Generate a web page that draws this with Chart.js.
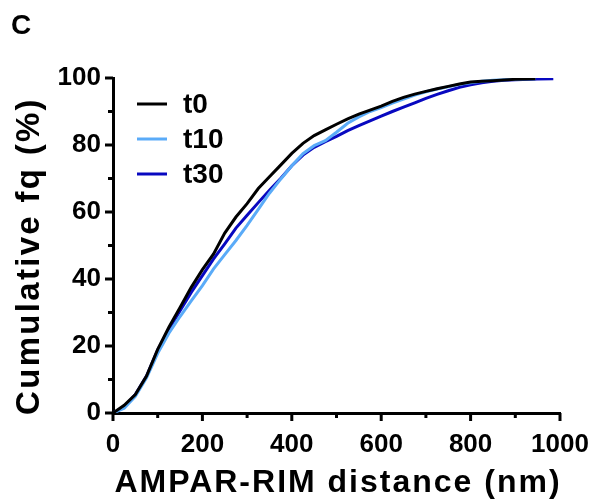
<!DOCTYPE html>
<html>
<head>
<meta charset="utf-8">
<script src="https://cdn.jsdelivr.net/npm/chart.js@4.4.0/dist/chart.umd.min.js"></script>
<style>
html,body{margin:0;padding:0;background:#fff;}
</style>
</head>
<body>
<canvas id="myChart" width="595" height="500"></canvas>
<script>
// cumulative frequency curves
const seriesNames = ['t0', 't10', 't30'];
const seriesColors = ['#000000', '#5aabf8', '#0808c0'];

const t0Dist = [0,25,50,75,100,125,150,175,200,225,250,275,300,325,350,375,400,425,450,475,500,525,550,575,600,625,650,675,700,725,750,775,800,825,850,875,900,925,945];
const t0Fq   = [0,2.3,5.5,11,19,25.6,31.5,37.5,42.8,47.5,53.7,58.5,62.5,67,70.5,74,77.5,80.5,82.8,84.5,86.2,87.8,89.2,90.4,91.6,93,94.2,95.2,96,96.8,97.5,98.2,98.8,99,99.2,99.4,99.6,99.7,99.8];

const t10Dist = [0,25,50,75,100,125,150,175,200,225,250,275,300,325,350,375,400,425,450,475,500,525,550,575,600,625,650,675,700,725,750,775,800,825,850,900,945];
const t10Fq   = [0,1.4,5,10.5,17.8,23.8,28.8,33.5,38,43,47.3,51.5,56,60.8,65.6,69.8,73.8,77.4,79.8,81.3,83.8,86.5,88.4,90,91.2,92.5,93.7,94.9,95.9,96.7,97.4,98.1,98.6,99,99.3,99.6,99.8];

const t30Dist = [0,25,50,75,100,125,150,175,200,225,250,275,300,325,350,375,400,425,450,475,500,525,550,575,600,625,650,675,700,725,750,775,800,825,850,875,900,950,985];
const t30Fq   = [0,1.8,5.5,11,18.8,25,30.5,36,41,46,50.5,55.2,59,62.8,66.5,70,73.8,77,79.3,81,82.6,84.3,85.8,87.2,88.6,90,91.3,92.6,93.9,95.1,96.2,97.2,98,98.6,99,99.3,99.5,99.7,99.8];

const xTicks = [0,200,400,600,800,1000];
const xMinor = [100,300,500,700,900];
const yTicks = [0,20,40,60,80,100];
const yMinor = [10,30,50,70,90];

const xTitle = 'AMPAR-RIM distance (nm)';
const yTitle = 'Cumulative fq (%)';
const panelLabel = 'C';

function pts(xs, ys){
  const out = [];
  for (let i = 0; i < xs.length; i++) out.push({x: xs[i], y: ys[i]});
  return out;
}
const allDist = [t0Dist, t10Dist, t30Dist];
const allFq = [t0Fq, t10Fq, t30Fq];

const datasets = seriesNames.map(function(n, i){
  return {
    label: n,
    data: pts(allDist[i], allFq[i]),
    borderColor: seriesColors[i],
    backgroundColor: seriesColors[i],
    borderWidth: 3,
    pointRadius: 0,
    tension: 0,
    fill: false
  };
});

const FONT = "'Liberation Sans', Arial, sans-serif";

const decor = {
  id: 'decor',
  beforeDraw(chart){
    const ctx = chart.ctx;
    ctx.save();
    ctx.fillStyle = '#fff';
    ctx.fillRect(0, 0, chart.width, chart.height);
    ctx.restore();
  },
  afterDraw(chart){
    const ctx = chart.ctx;
    const xs = chart.scales.x, ys = chart.scales.y;
    ctx.save();
    ctx.strokeStyle = '#000';
    ctx.lineWidth = 3;
    // tick marks
    function tx(v, len){
      const p = xs.getPixelForValue(v);
      ctx.beginPath(); ctx.moveTo(p, xs.top); ctx.lineTo(p, xs.top + len); ctx.stroke();
    }
    function ty(v, len){
      const p = ys.getPixelForValue(v);
      ctx.beginPath(); ctx.moveTo(ys.right, p); ctx.lineTo(ys.right - len, p); ctx.stroke();
    }
    xTicks.forEach(v => tx(v, 8));
    xMinor.forEach(v => tx(v, 5));
    yTicks.forEach(v => ty(v, 8));
    yMinor.forEach(v => ty(v, 5));

    // legend
    const lx = chart.chartArea.left + 24;
    seriesNames.forEach(function(n, i){
      const y = 104 + i * 35;
      ctx.strokeStyle = seriesColors[i];
      ctx.beginPath(); ctx.moveTo(lx, y); ctx.lineTo(lx + 30, y); ctx.stroke();
      ctx.fillStyle = '#000';
      ctx.font = 'bold 28px ' + FONT;
      ctx.textBaseline = 'middle';
      ctx.textAlign = 'left';
      ctx.fillText(n, lx + 46, y + 1);
    });

    // titles
    ctx.fillStyle = '#000';
    ctx.letterSpacing = '2px';
    ctx.font = 'bold 32px ' + FONT;
    ctx.textAlign = 'center';
    ctx.textBaseline = 'alphabetic';
    ctx.fillText(xTitle, 338, 492);
    ctx.letterSpacing = '2.3px';
    ctx.font = 'bold 33px ' + FONT;
    ctx.save();
    ctx.translate(39, 256);
    ctx.rotate(-Math.PI / 2);
    ctx.fillText(yTitle, 0, 0);
    ctx.restore();
    ctx.letterSpacing = '0px';
    ctx.font = 'bold 28px ' + FONT;
    ctx.textAlign = 'left';
    ctx.fillText(panelLabel, 11, 34);
    ctx.restore();
  }
};

const config = {
  type: 'line',
  data: { datasets: datasets },
  options: {
    responsive: false,
    animation: false,
    devicePixelRatio: 1,
    layout: { padding: { top: 78, right: 35, left: 0, bottom: 0 } },
    plugins: { legend: { display: false }, tooltip: { enabled: false } },
    scales: {
      x: {
        type: 'linear',
        min: 0, max: 1000,
        grid: { display: false, drawTicks: false },
        border: { display: true, color: '#000', width: 3 },
        afterFit: function(s){ s.height = 87; s.paddingLeft = 0; s.paddingRight = 0; },
        afterBuildTicks: function(s){ s.ticks = xTicks.map(v => ({value: v})); },
        ticks: { color: '#000', padding: 16, maxRotation: 0, callback: v => String(v), font: { family: FONT, size: 26, weight: 'bold' } }
      },
      y: {
        type: 'linear',
        min: 0, max: 100,
        grid: { display: false, drawTicks: false },
        border: { display: true, color: '#000', width: 3 },
        afterFit: function(s){ s.width = 113; s.paddingTop = 0; s.paddingBottom = 0; },
        afterBuildTicks: function(s){ s.ticks = yTicks.map(v => ({value: v})); },
        ticks: { color: '#000', padding: 12, callback: v => String(v), font: { family: FONT, size: 26, weight: 'bold' } }
      }
    }
  },
  plugins: [decor]
};

const myChart = new Chart(document.getElementById('myChart'), config);
</script>
</body>
</html>
